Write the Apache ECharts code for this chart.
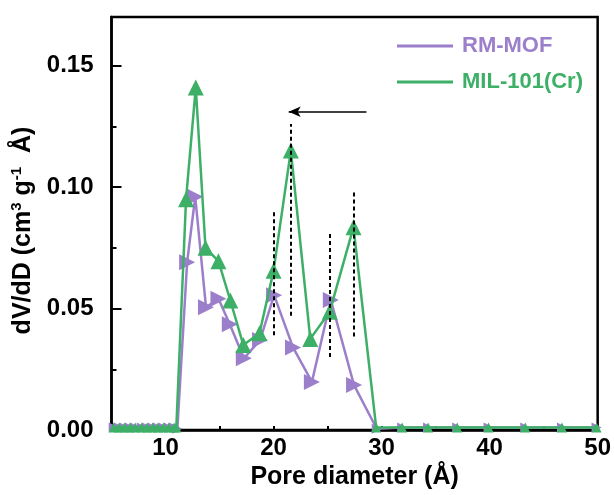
<!DOCTYPE html>
<html>
<head>
<meta charset="utf-8">
<script src="https://cdn.jsdelivr.net/npm/echarts@6/dist/echarts.min.js"></script>
<style>html,body{margin:0;padding:0;background:#fff}#c{width:614px;height:495px}</style>
</head>
<body>
<div id="c"></div>
<script>
// Pore diameter (Å) and dV/dD values
const rmX = [5.2, 5.7, 6.2, 6.7, 7.2, 7.8, 8.3, 8.8, 9.3, 9.8, 10.3, 10.8, 11.1, 12.0, 12.75, 13.75, 14.9, 15.95, 17.25, 18.75, 20.05, 21.8, 23.55, 25.3, 27.45, 29.55, 31.9, 34.3, 37.0, 39.9, 43.3, 46.7, 49.9];
const rmY = [0.001, 0.001, 0.001, 0.001, 0.001, 0.001, 0.001, 0.001, 0.001, 0.001, 0.001, 0.001, 0.0005, 0.069, 0.096, 0.0505, 0.054, 0.0435, 0.0295, 0.037, 0.0555, 0.034, 0.0198, 0.0535, 0.0185, 0.0005, 0.001, 0.001, 0.001, 0.001, 0.001, 0.001, 0.001];
const milX = [5.2, 5.7, 6.2, 6.7, 7.2, 7.8, 8.3, 8.8, 9.3, 9.8, 10.3, 10.8, 11.0, 11.9, 12.8, 13.7, 14.9, 16.0, 17.2, 18.7, 20.0, 21.6, 23.4, 25.2, 27.4, 29.5, 31.9, 34.3, 37.0, 39.9, 43.3, 46.7, 49.9];
const milY = [0.001, 0.001, 0.001, 0.001, 0.001, 0.001, 0.001, 0.001, 0.001, 0.001, 0.001, 0.001, 0.001, 0.095, 0.141, 0.075, 0.0695, 0.0533, 0.035, 0.0398, 0.0655, 0.115, 0.0375, 0.0487, 0.0835, 0.001, 0.001, 0.001, 0.001, 0.001, 0.001, 0.001, 0.001];
// Annotations: vertical dashed guides and the arrow (data coordinates)
const dashX = [20.0, 21.6, 25.2, 27.4];
const dashLow = [0.039, 0.047, 0.030, 0.0385];
const dashHigh = [0.090, 0.126, 0.081, 0.0985];
const arrowFrom = [28.6, 0.131];
const arrowTo = [21.4, 0.131];
// Tick labels
const xTickLabels = [10, 20, 30, 40, 50];
const xTicks = [10, 15, 20, 25, 30, 35, 40, 45];
const yTickLabels = [0, 0.05, 0.10, 0.15];
const yMinorTicks = [0.025, 0.075, 0.125];

const purple = '#9c7fcb';
const green = '#3daf66';
const FONT = '"Liberation Sans", Arial, sans-serif';

const pair = (xs, ys) => xs.map((x, i) => [x, ys[i]]);
const symSize = v => (v[1] < 0.003 ? 10 : 16);

const markData = dashX.map((x, i) => [
  { coord: [x, dashLow[i]], symbol: 'none' },
  { coord: [x, dashHigh[i]], symbol: 'none' }
]);
markData.push([
  { coord: arrowFrom, symbol: 'none', lineStyle: { type: 'solid', width: 1.6, color: '#000' } },
  { coord: arrowTo, symbol: 'arrow', symbolSize: [8, 12] }
]);

const chart = echarts.init(document.getElementById('c'), null, { renderer: 'canvas' });
chart.setOption({
  animation: false,
  textStyle: { fontFamily: FONT },
  grid: { left: 111.5, right: 16, top: 17, bottom: 63.5, show: true, borderColor: '#000', borderWidth: 2.5, containLabel: false },
  legend: {
    orient: 'vertical', left: 397, top: 35, padding: 0, itemGap: 14,
    icon: 'rect', itemWidth: 56, itemHeight: 3,
    textStyle: { fontSize: 22, fontWeight: 'bold', fontFamily: FONT, padding: [0, 0, 0, 4] },
    data: [
      { name: 'RM-MOF', textStyle: { color: purple } },
      { name: 'MIL-101(Cr)', textStyle: { color: green } }
    ]
  },
  xAxis: {
    type: 'value', min: 5, max: 50,
    name: 'Pore diameter (Å)', nameLocation: 'middle', nameGap: 35,
    nameTextStyle: { fontSize: 25, fontWeight: 'bold', color: '#000', fontFamily: FONT },
    axisLine: { lineStyle: { color: '#000', width: 2.5 } },
    axisTick: { inside: true, length: 4, lineStyle: { color: '#000', width: 2 }, customValues: xTicks },
    axisLabel: { customValues: xTickLabels, fontSize: 24, fontWeight: 'bold', color: '#000', margin: 6, fontFamily: FONT },
    splitLine: { show: false }
  },
  yAxis: [{
    type: 'value', min: 0, max: 0.17,
    name: '{t|dV/dD (cm}{s|3}{t| g}{s|-1}{t|  Å)}', nameLocation: 'middle', nameGap: 68,
    nameTextStyle: {
      padding: [0, 14, 0, 0],
      rich: {
        t: { fontSize: 25, fontWeight: 'bold', color: '#000', fontFamily: FONT, lineHeight: 28 },
        s: { fontSize: 15, fontWeight: 'bold', color: '#000', fontFamily: FONT, verticalAlign: 'top', lineHeight: 16 }
      }
    },
    axisLine: { show: true, lineStyle: { color: '#000', width: 2.5 } },
    axisTick: { inside: true, length: 10, lineStyle: { color: '#000', width: 2 }, customValues: yTickLabels },
    axisLabel: { customValues: yTickLabels, formatter: v => v.toFixed(2), fontSize: 24, fontWeight: 'bold', color: '#000', margin: 18, fontFamily: FONT },
    splitLine: { show: false }
  }, {
    type: 'value', min: 0, max: 0.17, position: 'left',
    axisLine: { show: false },
    axisTick: { show: true, inside: true, length: 5, lineStyle: { color: '#000', width: 2 }, customValues: yMinorTicks },
    axisLabel: { show: false },
    splitLine: { show: false }
  }],
  series: [
    {
      name: 'RM-MOF', type: 'line', data: pair(rmX, rmY),
      color: purple, lineStyle: { width: 2.5, color: purple },
      symbol: 'triangle', symbolRotate: -90, symbolSize: symSize,
      itemStyle: { color: purple }, z: 2
    },
    {
      name: 'MIL-101(Cr)', type: 'line', data: pair(milX, milY),
      color: green, lineStyle: { width: 2.5, color: green },
      symbol: 'triangle', symbolSize: symSize,
      itemStyle: { color: green }, z: 3,
      markLine: {
        silent: true, animation: false,
        label: { show: false },
        lineStyle: { type: [4, 3], width: 2, color: '#000' },
        emphasis: { disabled: true },
        data: markData
      }
    }
  ]
});
</script>
</body>
</html>
